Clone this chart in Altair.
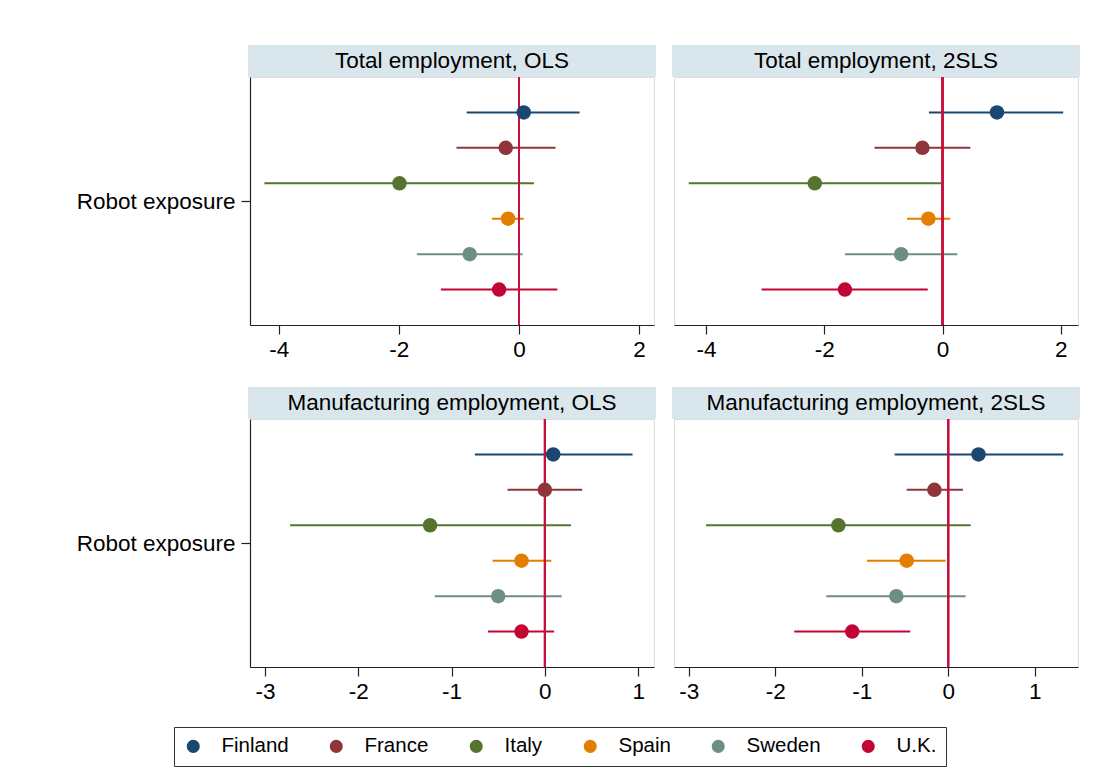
import altair as alt
import pandas as pd

countries = ["Finland", "France", "Italy", "Spain", "Sweden", "U.K."]
colors = ["#1a476f", "#90353b", "#55752f", "#e37e00", "#6e8e84", "#c10534"]

panel_titles = [
    "Total employment, OLS",
    "Total employment, 2SLS",
    "Manufacturing employment, OLS",
    "Manufacturing employment, 2SLS",
]

# point estimates
coef_tot_ols = [0.08, -0.22, -1.99, -0.18, -0.82, -0.33]
coef_tot_2sls = [0.92, -0.34, -2.16, -0.24, -0.70, -1.65]
coef_man_ols = [0.09, 0.00, -1.23, -0.25, -0.50, -0.25]
coef_man_2sls = [0.35, -0.16, -1.27, -0.48, -0.60, -1.11]

# lower confidence bounds
lo_tot_ols = [-0.87, -1.04, -4.24, -0.45, -1.70, -1.30]
lo_tot_2sls = [-0.23, -1.15, -4.29, -0.60, -1.65, -3.06]
lo_man_ols = [-0.75, -0.40, -2.73, -0.56, -1.18, -0.61]
lo_man_2sls = [-0.62, -0.48, -2.80, -0.94, -1.41, -1.78]

# upper confidence bounds
hi_tot_ols = [1.01, 0.61, 0.25, 0.08, 0.06, 0.64]
hi_tot_2sls = [2.04, 0.47, -0.02, 0.13, 0.25, -0.25]
hi_man_ols = [0.94, 0.40, 0.28, 0.07, 0.18, 0.10]
hi_man_2sls = [1.33, 0.17, 0.26, -0.03, 0.20, -0.44]

x_domains = [[-4.48, 2.25], [-4.54, 2.29], [-3.16, 1.17], [-3.17, 1.50]]
x_ticks = [[-4, -2, 0, 2], [-4, -2, 0, 2], [-3, -2, -1, 0, 1], [-3, -2, -1, 0, 1]]

coefs = [coef_tot_ols, coef_tot_2sls, coef_man_ols, coef_man_2sls]
los = [lo_tot_ols, lo_tot_2sls, lo_man_ols, lo_man_2sls]
his = [hi_tot_ols, hi_tot_2sls, hi_man_ols, hi_man_2sls]

FONT = "Liberation Sans"
W, H = 404, 248
HDR = 32

color_scale = alt.Scale(domain=countries, range=colors)
legend = alt.Legend(
    orient="none", legendX=-76, legendY=650, direction="horizontal",
    columns=6, title=None, symbolType="circle", symbolSize=170,
    symbolOpacity=1, symbolStrokeWidth=0, labelFontSize=20.5,
    labelFont=FONT, labelColor="#000", labelOffset=18,
    columnPadding=37, padding=9, strokeColor="#333",
    cornerRadius=0, fillColor="#ffffff",
)


def panel(i, show_y):
    df = pd.DataFrame({
        "country": countries,
        "idx": list(range(1, len(countries) + 1)),
        "coef": coefs[i],
        "lo": los[i],
        "hi": his[i],
    })
    xscale = alt.Scale(domain=x_domains[i], nice=False, zero=False)
    xaxis = alt.Axis(values=x_ticks[i], labelExpr="'' + datum.value", title=None,
                     grid=False, tickSize=9, labelPadding=4, labelFontSize=22.5,
                     labelFont=FONT, labelColor="#000", domainColor="#222",
                     tickColor="#222", domainWidth=1.2, tickWidth=1.2)
    yscale = alt.Scale(domain=[0, 7], reverse=True, nice=False, zero=False)
    if show_y:
        yaxis = alt.Axis(values=[3.5], labelExpr="'Robot exposure'", title=None,
                         grid=False, tickSize=9, labelPadding=6, labelFontSize=22.5,
                         labelFont=FONT, labelColor="#000", domainColor="#222",
                         tickColor="#222", domainWidth=1.2, tickWidth=1.2)
    else:
        yaxis = None

    base = alt.Chart(df)
    ci = base.mark_rule(strokeWidth=2).encode(
        x=alt.X("lo:Q", scale=xscale, axis=xaxis),
        x2="hi:Q",
        y=alt.Y("idx:Q", scale=yscale, axis=yaxis),
        color=alt.Color("country:N", scale=color_scale, legend=legend),
    )
    zero = base.mark_rule(color="#c8103e", strokeWidth=1.8).encode(x=alt.datum(0))
    pts = base.mark_circle(size=210, opacity=1).encode(
        x="coef:Q",
        y="idx:Q",
        color=alt.Color("country:N", scale=color_scale, legend=legend),
    )
    hdr_df = pd.DataFrame({"t": [panel_titles[i]]})
    hdr_rect = alt.Chart(hdr_df).mark_rect(color="#d9e6eb").encode(
        x=alt.value(-2), x2=alt.value(W + 2), y=alt.value(-HDR), y2=alt.value(0)
    )
    hdr_text = alt.Chart(hdr_df).mark_text(
        fontSize=22.5, font=FONT, color="#000", baseline="middle", align="center"
    ).encode(x=alt.value(W / 2), y=alt.value(-HDR / 2), text="t:N")
    return alt.layer(hdr_rect, hdr_text, ci, zero, pts).properties(width=W, height=H)


chart = alt.concat(
    panel(0, True), panel(1, False), panel(2, True), panel(3, False),
    columns=2, spacing={"row": 94, "column": 20},
).properties(
    bounds="flush",
    padding={"left": 75, "top": 44, "right": 5, "bottom": 0},
    background="#ffffff",
).configure_view(stroke=None).configure(font=FONT)

chart.save("out.html", embed_options={"renderer": "svg", "actions": False})
